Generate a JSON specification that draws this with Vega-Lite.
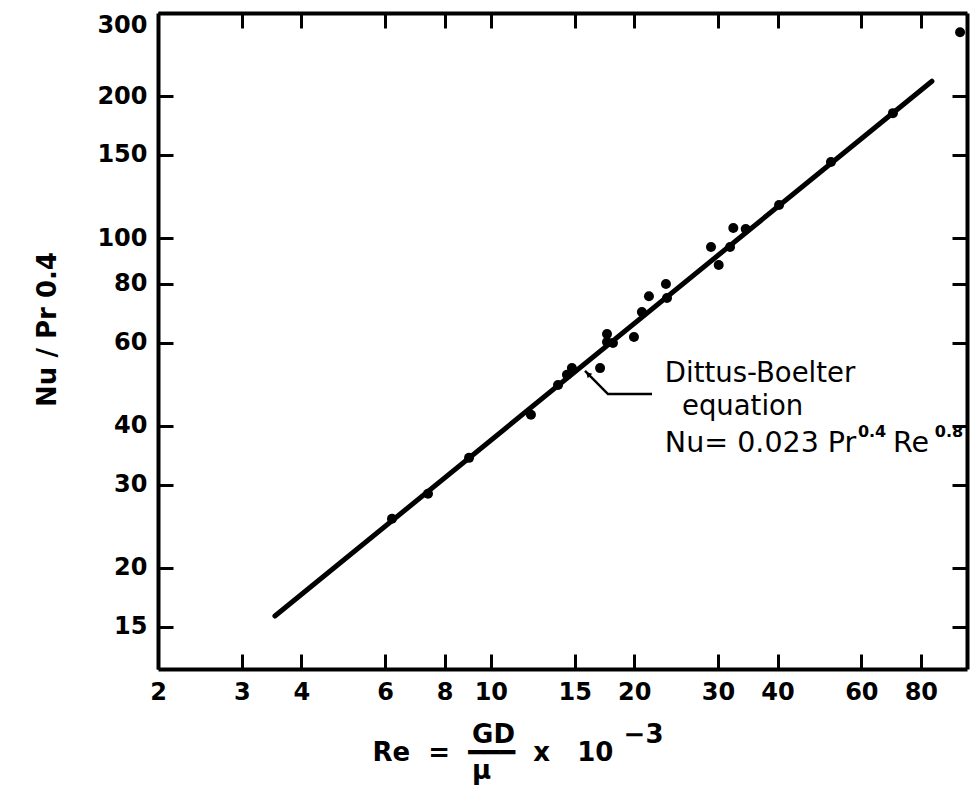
{
  "$schema": "https://vega.github.io/schema/vega-lite/v6.json",
  "width": 809,
  "height": 656,
  "autosize": {"type": "none"},
  "padding": {"left": 158, "top": 13, "right": 4, "bottom": 125},
  "background": "white",
  "config": {
    "view": {"stroke": null},
    "font": "DejaVu Sans",
    "axis": {
      "domainColor": "black",
      "domainWidth": 4,
      "tickColor": "black",
      "tickWidth": 3,
      "tickSize": -15,
      "grid": false,
      "labelColor": "black",
      "labelFontSize": 24,
      "labelFontWeight": "bold",
      "labelFont": "DejaVu Sans",
      "labelFlush": false,
      "labelOverlap": false,
      "titleColor": "black",
      "titleFont": "DejaVu Sans"
    }
  },
  "datasets": {
    "pts": [
      {"Re": 6.2, "Nu": 25.4},
      {"Re": 7.38, "Nu": 28.7},
      {"Re": 9.0, "Nu": 34.2},
      {"Re": 12.14, "Nu": 42.2},
      {"Re": 13.84, "Nu": 48.8},
      {"Re": 14.45, "Nu": 51.3},
      {"Re": 14.8, "Nu": 53.0},
      {"Re": 16.96, "Nu": 53.0},
      {"Re": 17.54, "Nu": 62.6},
      {"Re": 17.54, "Nu": 60.2},
      {"Re": 18.05, "Nu": 59.9},
      {"Re": 19.98, "Nu": 61.7},
      {"Re": 20.76, "Nu": 69.7},
      {"Re": 21.48, "Nu": 75.3},
      {"Re": 23.32, "Nu": 79.9},
      {"Re": 23.44, "Nu": 74.6},
      {"Re": 29.0, "Nu": 95.7},
      {"Re": 30.1, "Nu": 87.7},
      {"Re": 31.8, "Nu": 95.7},
      {"Re": 32.3, "Nu": 105.0},
      {"Re": 34.3, "Nu": 104.5},
      {"Re": 40.3, "Nu": 117.5},
      {"Re": 51.8, "Nu": 144.9},
      {"Re": 69.9, "Nu": 184.0},
      {"Re": 96.7, "Nu": 273.2}
    ],
    "fit": [
      {"Re": 3.52, "Nu": 15.8},
      {"Re": 84.4, "Nu": 215.0}
    ],
    "leader": [
      {"Re": 15.77, "Nu": 52.3, "o": 0},
      {"Re": 17.62, "Nu": 46.7, "o": 1},
      {"Re": 21.8, "Nu": 46.7, "o": 2}
    ],
    "one": [{}]
  },
  "resolve": {"axis": {"x": "independent", "y": "independent"}},
  "layer": [
    {
      "data": {"name": "fit"},
      "mark": {"type": "line", "color": "black", "strokeWidth": 5, "strokeCap": "round"},
      "encoding": {
        "x": {"field": "Re", "type": "quantitative",
              "scale": {"type": "log", "domain": [2, 100], "nice": false},
              "axis": {"orient": "top", "values": [3, 4, 6, 8, 10, 15, 20, 30, 40, 60, 80], "labels": false, "title": null}},
        "y": {"field": "Nu", "type": "quantitative",
              "scale": {"type": "log", "domain": [12.2, 300], "nice": false},
              "axis": {"orient": "right", "values": [15, 20, 30, 40, 60, 80, 100, 150, 200], "labels": false, "title": null}}
      }
    },
    {
      "data": {"name": "pts"},
      "mark": {"type": "circle", "color": "black", "size": 100, "opacity": 1},
      "encoding": {
        "x": {"field": "Re", "type": "quantitative",
              "axis": {"orient": "bottom", "values": [2, 3, 4, 6, 8, 10, 15, 20, 30, 40, 60, 80], "format": "d",
                       "labelPadding": 26,
                       "title": [
                         "\u200b\u00a0\u00a0\u00a0\u00a0\u00a0\u00a0\u00a0\u00a0\u00a0\u00a0\u00a0GD\u00a0\u00a0\u00a0\u00a0\u00a0\u00a0\u00a0\u00a0\u00a0\u00a0\u00a0\u00a0−3",
                         "Re\u00a0\u00a0=\u00a0\u00a0━━━\u00a0\u00a0x\u00a0\u00a0\u00a010",
                         "\u200b\u00a0\u00a0\u00a0\u00a0\u00a0\u00a0\u00a0\u00a0\u00a0\u00a0\u00a0μ"
                       ],
                       "titleFontSize": 26, "titleFontWeight": "bold", "titleLineHeight": 18,
                       "titleX": 214, "titleY": 73, "titleBaseline": "alphabetic", "titleAlign": "left", "titleAnchor": "start"}},
        "y": {"field": "Nu", "type": "quantitative",
              "axis": {"orient": "left", "values": [15, 20, 30, 40, 60, 80, 100, 150, 200, 300], "format": "d",
                       "labelPadding": 26,
                       "labelBaseline": {"condition": {"test": "datum.value >= 300", "value": "top"}, "value": "middle"},
                       "title": "Nu / Pr 0.4", "titleFontSize": 26, "titleFontWeight": "bold",
                       "titleX": -111, "titleY": 316, "titleAngle": -90, "titleBaseline": "middle", "titleAlign": "center"}}
      }
    },
    {
      "data": {"name": "leader"},
      "mark": {"type": "line", "color": "black", "strokeWidth": 2.5},
      "encoding": {
        "x": {"field": "Re", "type": "quantitative", "axis": null},
        "y": {"field": "Nu", "type": "quantitative", "axis": null},
        "order": {"field": "o"}
      }
    },
    {
      "data": {"name": "one"},
      "mark": {"type": "point", "shape": "triangle-up", "filled": true, "color": "black", "opacity": 1, "size": 40, "angle": -45},
      "encoding": {"x": {"datum": 16.0, "type": "quantitative", "axis": null}, "y": {"datum": 51.5, "type": "quantitative", "axis": null}}
    },
    {
      "data": {"name": "one"},
      "mark": {"type": "text", "text": "Dittus-Boelter", "align": "left", "baseline": "middle", "fontSize": 27.5, "color": "black"},
      "encoding": {"x": {"datum": 23.2, "type": "quantitative", "axis": null}, "y": {"datum": 51.5, "type": "quantitative", "axis": null}}
    },
    {
      "data": {"name": "one"},
      "mark": {"type": "text", "text": "equation", "align": "left", "baseline": "middle", "fontSize": 27.5, "color": "black"},
      "encoding": {"x": {"datum": 25.2, "type": "quantitative", "axis": null}, "y": {"datum": 43.85, "type": "quantitative", "axis": null}}
    },
    {
      "data": {"name": "one"},
      "mark": {"type": "text", "text": "Nu= 0.023 Pr", "align": "left", "baseline": "middle", "fontSize": 28.5, "color": "black"},
      "encoding": {"x": {"datum": 23.2, "type": "quantitative", "axis": null}, "y": {"datum": 36.8, "type": "quantitative", "axis": null}}
    },
    {
      "data": {"name": "one"},
      "mark": {"type": "text", "text": "0.4", "align": "left", "baseline": "middle", "fontSize": 16, "fontWeight": "bold", "color": "black"},
      "encoding": {"x": {"datum": 59.0, "type": "quantitative", "axis": null}, "y": {"datum": 38.8, "type": "quantitative", "axis": null}}
    },
    {
      "data": {"name": "one"},
      "mark": {"type": "text", "text": "Re", "align": "left", "baseline": "middle", "fontSize": 28.5, "color": "black"},
      "encoding": {"x": {"datum": 69.9, "type": "quantitative", "axis": null}, "y": {"datum": 36.8, "type": "quantitative", "axis": null}}
    },
    {
      "data": {"name": "one"},
      "mark": {"type": "text", "text": "0.8", "align": "left", "baseline": "middle", "fontSize": 16, "fontWeight": "bold", "color": "black"},
      "encoding": {"x": {"datum": 85.6, "type": "quantitative", "axis": null}, "y": {"datum": 38.8, "type": "quantitative", "axis": null}}
    }
  ]
}
